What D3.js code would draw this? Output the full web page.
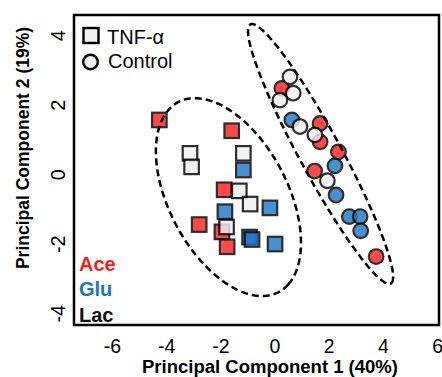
<!DOCTYPE html>
<html><head><meta charset="utf-8">
<script src="https://cdn.jsdelivr.net/npm/d3@7"></script>
<style>html,body{margin:0;padding:0;background:#fff;}svg{display:block;font-family:"Liberation Sans",Arial,sans-serif;}</style>
</head><body>
<svg id="c" width="442" height="377"></svg>
<script>
// ---- data ----
const xTicks = [-6, -4, -2, 0, 2, 4, 6];
const yTicks = [-4, -2, 0, 2, 4];
const xTitle = "Principal Component 1 (40%)";
const yTitle = "Principal Component 2 (19%)";
const groups = ["Ace", "Glu", "Lac"];
const treatments = ["TNF-α", "Control"];
// TNF-α (squares)
const tnfAce = [[-4.25, 1.56], [-1.58, 1.25], [-1.86, -0.45], [-2.78, -1.45], [-1.94, -1.66], [-1.75, -2.09]];
const tnfGlu = [[-1.15, 0.12], [-0.17, -0.97], [-1.83, -1.08], [-0.92, -1.81], [-0.83, -1.88], [0.02, -2.01]];
const tnfLac = [[-3.12, 0.60], [-3.06, 0.21], [-1.15, 0.60], [-1.30, -0.48], [-0.90, -0.86], [-1.77, -1.52]];
// Control (circles)
const ctlAce = [[0.27, 2.47], [1.68, 1.46], [1.68, 0.93], [2.36, 0.64], [1.48, 0.09], [3.75, -2.37]];
const ctlGlu = [[0.64, 1.56], [2.23, 0.24], [2.27, -0.60], [2.76, -1.22], [3.16, -1.22], [3.18, -1.63]];
const ctlLac = [[0.57, 2.80], [0.69, 2.33], [0.20, 2.13], [0.94, 1.37], [1.49, 1.13], [1.95, -0.19]];
// confidence ellipses: [cx, cy, semi-major, semi-minor, angle(deg)]
const ellipseTnf = [-1.70, -0.66, 3.345, 2.022, -48.8];
const ellipseCtl = [1.70, 0.58, 4.543, 0.721, -54.9];

// ---- layout ----
const L = 74, R = 439, T = 15, B = 325;
const x = d3.scaleLinear().domain([-7.40, 6.07]).range([L, R]);
const y = d3.scaleLinear().domain([-4.34, 4.58]).range([B, T]);
const colors = {Ace: "#ff2222", Glu: "#1f78c8", Lac: "#f0f0f0"};
const textColors = {Ace: "#ff1a1a", Glu: "#1a76c6", Lac: "#111"};

const svg = d3.select("#c");

// ellipses
function ellipsePts(e) {
  const [cx, cy, a, b, ang] = e;
  const th = ang * Math.PI / 180;
  return d3.range(0, 361, 2).map(t => {
    const r = t * Math.PI / 180;
    const u = a * Math.cos(r), v = b * Math.sin(r);
    return [cx + u * Math.cos(th) - v * Math.sin(th), cy + u * Math.sin(th) + v * Math.cos(th)];
  });
}
const line = d3.line().x(d => x(d[0])).y(d => y(d[1])).curve(d3.curveLinearClosed);

// markers
const squareSeries = [["Ace", tnfAce], ["Glu", tnfGlu], ["Lac", tnfLac]];
const circleSeries = [["Ace", ctlAce], ["Glu", ctlGlu], ["Lac", ctlLac]];
const S = 14.5;
const gm = svg.append("g");
squareSeries.forEach(([g, pts]) => {
  gm.selectAll(null).data(pts).enter().append("rect")
    .attr("x", d => x(d[0]) - S / 2).attr("y", d => y(d[1]) - S / 2)
    .attr("width", S).attr("height", S)
    .attr("fill", colors[g]).attr("stroke", "#000").attr("stroke-width", 2.2)
    .attr("opacity", 0.82);
});
circleSeries.forEach(([g, pts]) => {
  gm.selectAll(null).data(pts).enter().append("circle")
    .attr("cx", d => x(d[0])).attr("cy", d => y(d[1])).attr("r", 7.3)
    .attr("fill", colors[g]).attr("stroke", "#000").attr("stroke-width", 2.2)
    .attr("opacity", 0.82);
});

[ellipseTnf, ellipseCtl].forEach(e => {
  svg.append("path").attr("d", line(ellipsePts(e)))
    .attr("fill", "none").attr("stroke", "#000").attr("stroke-width", 2.5)
    .attr("stroke-dasharray", "7,4");
});

// frame
svg.append("rect").attr("x", L).attr("y", T).attr("width", R - L).attr("height", B - T)
  .attr("fill", "none").attr("stroke", "#000").attr("stroke-width", 2.5);

// x ticks
const xAxis = d3.axisBottom(x).tickValues(xTicks).tickSize(0).tickPadding(0)
  .tickFormat(d => d3.format("d")(d).replace("−", "-"));
const gx = svg.append("g").attr("transform", `translate(0,${B})`).call(xAxis);
gx.select(".domain").remove();
gx.selectAll("text").attr("y", 27.5).attr("dy", null)
  .attr("font-size", 19.5).attr("fill", "#000").attr("font-family", "Liberation Sans, Arial, sans-serif");

// y ticks (rotated)
const yAxis = d3.axisLeft(y).tickValues(yTicks).tickSize(0).tickPadding(0)
  .tickFormat(d => d3.format("d")(d).replace("−", "-"));
const gy = svg.append("g").attr("transform", `translate(${L},0)`).call(yAxis);
gy.select(".domain").remove();
gy.selectAll("text").attr("x", null).attr("dy", null)
  .attr("transform", "translate(-9,0) rotate(-90)")
  .attr("text-anchor", "middle")
  .attr("font-size", 20).attr("fill", "#000").attr("font-family", "Liberation Sans, Arial, sans-serif");

// axis titles
svg.append("text").attr("x", 270).attr("y", 373).attr("text-anchor", "middle")
  .attr("font-size", 18.5).attr("font-weight", "bold").text(xTitle);
svg.append("text").attr("transform", "translate(29,148) rotate(-90)").attr("text-anchor", "middle")
  .attr("font-size", 17.5).attr("font-weight", "bold").text(yTitle);

// legend: treatments
const lg = svg.append("g");
lg.append("rect").attr("x", 83.5).attr("y", 28).attr("width", 15).attr("height", 15)
  .attr("fill", "#f2f2f2").attr("stroke", "#000").attr("stroke-width", 2.4);
lg.append("text").attr("x", 107).attr("y", 43.5).attr("font-size", 20).text(treatments[0]);
lg.append("circle").attr("cx", 90.5).attr("cy", 62).attr("r", 7.3)
  .attr("fill", "#f2f2f2").attr("stroke", "#000").attr("stroke-width", 2.4);
lg.append("text").attr("x", 108).attr("y", 67.5).attr("font-size", 20).text(treatments[1]);

// legend: groups
groups.forEach((g, i) => {
  svg.append("text").attr("x", 79).attr("y", 270.7 + i * 25.5)
    .attr("font-size", 20).attr("font-weight", "bold").attr("fill", textColors[g]).text(g);
});
</script>
</body></html>
